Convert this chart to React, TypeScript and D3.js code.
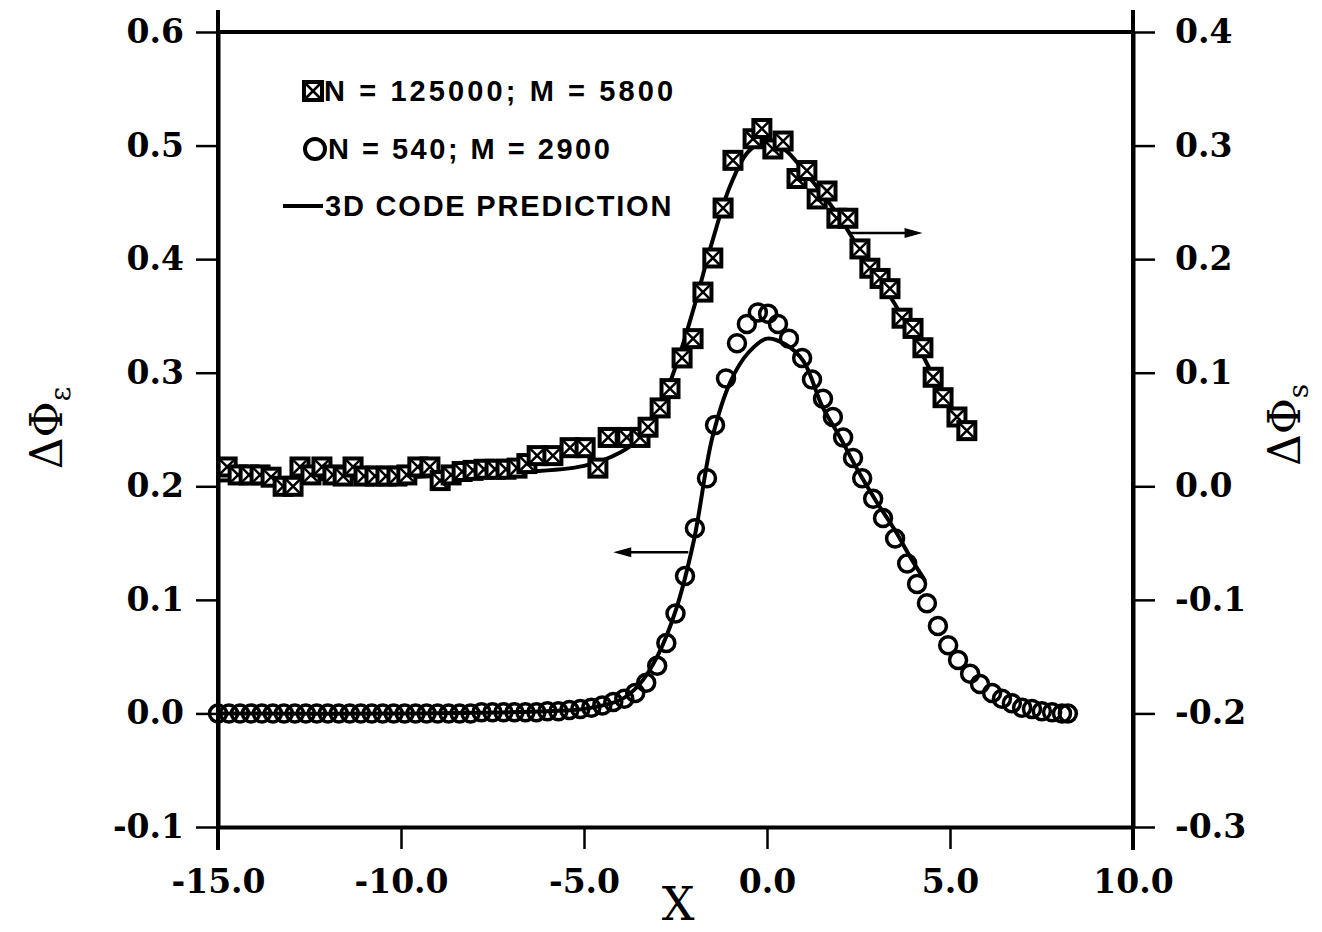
import React, { useEffect, useRef } from "react"
import * as d3 from "d3"

// axis ticks
const xTicks = [-15, -10, -5, 0, 5, 10]
const leftTicks = [-0.1, 0, 0.1, 0.2, 0.3, 0.4, 0.5, 0.6]
const rightTicks = [-0.3, -0.2, -0.1, 0, 0.1, 0.2, 0.3, 0.4]

// O  N = 540; M = 2900  (left axis)
const circleX = [
  -15.0, -14.7, -14.4, -14.1, -13.8, -13.5, -13.2, -12.9, -12.6, -12.3, -12.0, -11.7,
  -11.4, -11.1, -10.8, -10.5, -10.2, -9.9, -9.6, -9.3, -9.0, -8.7, -8.4, -8.1, -7.8,
  -7.5, -7.2, -6.9, -6.6, -6.3, -6.0, -5.7, -5.4, -5.1, -4.8, -4.5, -4.2, -3.9, -3.6,
  -3.3, -3.0, -2.75, -2.5, -2.24, -1.97, -1.64, -1.42, -1.12, -0.82, -0.55, -0.25,
  0.03, 0.3, 0.6, 0.96, 1.23, 1.53, 1.8, 2.08, 2.35, 2.6, 2.9, 3.17, 3.5, 3.83, 4.1,
  4.37, 4.67, 4.95, 5.22, 5.55, 5.82, 6.15, 6.42, 6.69, 6.97, 7.24, 7.51, 7.79, 8.06, 8.22
]
const circleY = [
  0, 0, 0, 0, 0, 0, 0, 0, 0, 0, 0, 0,
  0, 0, 0, 0, 0, 0, 0, 0, 0, 0, 0, 0, 0.001,
  0.001, 0.001, 0.001, 0.001, 0.001, 0.002, 0.002, 0.003, 0.004, 0.005, 0.007, 0.01, 0.013, 0.018,
  0.027, 0.042, 0.062, 0.088, 0.121, 0.163, 0.207, 0.254, 0.295, 0.326, 0.343, 0.353,
  0.352, 0.343, 0.33, 0.313, 0.294, 0.277, 0.261, 0.243, 0.225, 0.207, 0.189, 0.172, 0.154, 0.132, 0.114,
  0.097, 0.077, 0.06, 0.047, 0.035, 0.026, 0.018, 0.013, 0.009, 0.005, 0.004, 0.002, 0.001, 0.0, 0.0
]

// boxed squares  N = 125000; M = 5800  (right axis)
const squareX = [
  -14.75, -14.45, -14.15, -13.85, -13.55, -13.22, -12.95, -12.76, -12.46, -12.16, -11.86,
  -11.58, -11.31, -11.01, -10.71, -10.41, -10.11, -9.84, -9.54, -9.21, -8.93, -8.63, -8.33,
  -8.03, -7.73, -7.43, -7.13, -6.83, -6.56, -6.28, -5.85, -5.38, -4.97, -4.62, -4.34, -3.83,
  -3.47, -3.25, -2.92, -2.65, -2.32, -2.02, -1.75, -1.48, -1.2, -0.93, -0.38, -0.14, 0.16,
  0.44, 0.82, 1.09, 1.37, 1.64, 1.91, 2.21, 2.54, 2.81, 3.09, 3.36, 3.69, 3.99, 4.26, 4.54,
  4.81, 5.19, 5.46
]
const squareY = [
  0.017, 0.01, 0.01, 0.01, 0.008, 0.0, 0.0, 0.017, 0.01, 0.017, 0.01,
  0.009, 0.017, 0.009, 0.009, 0.009, 0.009, 0.01, 0.017, 0.017, 0.005, 0.01, 0.013,
  0.014, 0.015, 0.015, 0.015, 0.016, 0.02, 0.027, 0.027, 0.034, 0.034, 0.016, 0.043, 0.043,
  0.043, 0.052, 0.069, 0.086, 0.113, 0.13, 0.171, 0.201, 0.245, 0.287, 0.306, 0.315, 0.297,
  0.304, 0.271, 0.278, 0.253, 0.26, 0.236, 0.236, 0.209, 0.192, 0.183, 0.174, 0.148, 0.139, 0.122, 0.096,
  0.078, 0.061, 0.049
]

// 3D code prediction, lower curve (left axis)
const predLowX = [-15, -10, -6, -5, -4, -3.5, -3, -2.5, -2, -1.5, -1, -0.5, 0, 0.5, 1, 1.5, 2, 2.5, 3, 3.5, 4, 4.32]
const predLowY = [0, 0, 0.002, 0.004, 0.012, 0.025, 0.05, 0.09, 0.152, 0.242, 0.292, 0.318, 0.33, 0.325, 0.31, 0.271, 0.243, 0.213, 0.186, 0.161, 0.133, 0.117]

// 3D code prediction, upper curve (right axis)
const predHighX = [-15, -10, -7, -5, -4, -3.5, -3, -2.5, -2, -1.5, -1, -0.5, 0, 0.5, 1, 1.5, 2, 2.5, 3, 3.5, 4, 4.5, 5, 5.45]
const predHighY = [0.005, 0.008, 0.012, 0.018, 0.03, 0.042, 0.065, 0.105, 0.157, 0.215, 0.265, 0.295, 0.303, 0.296, 0.278, 0.258, 0.236, 0.21, 0.186, 0.16, 0.132, 0.1, 0.072, 0.05]

const App = () => {
  const ref = useRef<SVGSVGElement>(null)

  useEffect(() => {
    const W = 1322
    const H = 932
    const left = 218, right = 1133, top = 32, bottom = 827

    const x = d3.scaleLinear().domain([-15, 10]).range([left, right])
    const yL = d3.scaleLinear().domain([-0.1, 0.6]).range([bottom, top])
    const yR = d3.scaleLinear().domain([-0.3, 0.4]).range([bottom, top])

    const svg = d3.select(ref.current)
    svg.selectAll("*").remove()
    svg.attr("width", W).attr("height", H)
    svg.append("rect").attr("width", W).attr("height", H).attr("fill", "#fff")

    const fmt = (d: any) => (+d).toFixed(1)
    const styleAxis = (g: any) => {
      g.attr("font-family", "'DejaVu Serif', serif").attr("font-size", 33).attr("font-weight", "bold")
      g.select(".domain").attr("stroke-width", 4)
      g.selectAll(".tick line").attr("stroke-width", 2.5)
      g.selectAll(".tick text").attr("fill", "#000")
    }

    svg.append("g")
      .attr("transform", `translate(${left},0)`)
      .call(d3.axisLeft(yL).tickValues(leftTicks).tickSize(22).tickSizeOuter(0).tickPadding(12).tickFormat(fmt))
      .call(styleAxis)

    svg.append("g")
      .attr("transform", `translate(${right},0)`)
      .call(d3.axisRight(yR).tickValues(rightTicks).tickSize(22).tickSizeOuter(0).tickPadding(20).tickFormat(fmt))
      .call(styleAxis)

    const xa = svg.append("g")
      .attr("transform", `translate(0,${bottom})`)
      .call(d3.axisBottom(x).tickValues(xTicks).tickSize(22).tickSizeOuter(0).tickPadding(14).tickFormat(fmt))
      .call(styleAxis)
    xa.selectAll(".tick text").attr("dy", "0.9em")

    // frame: top line and axis lines running past the corners
    svg.append("line").attr("x1", left).attr("x2", right).attr("y1", top).attr("y2", top)
      .attr("stroke", "#000").attr("stroke-width", 4)
    ;[left, right].forEach(px => {
      svg.append("line").attr("x1", px).attr("x2", px).attr("y1", 10).attr("y2", 850)
        .attr("stroke", "#000").attr("stroke-width", 4)
    })

    const plot = svg.append("g")

    // prediction curves
    const lowLine = d3.line<number>()
      .x((_, i) => x(predLowX[i]))
      .y(d => yL(d))
      .curve(d3.curveCatmullRom.alpha(0.5))
    plot.append("path").attr("d", lowLine(predLowY))
      .attr("fill", "none").attr("stroke", "#000").attr("stroke-width", 4)

    const highLine = d3.line<number>()
      .x((_, i) => x(predHighX[i]))
      .y(d => yR(d))
      .curve(d3.curveCatmullRom.alpha(0.5))
    plot.append("path").attr("d", highLine(predHighY))
      .attr("fill", "none").attr("stroke", "#000").attr("stroke-width", 4)

    // circles
    plot.append("g").selectAll("circle")
      .data(circleY)
      .join("circle")
      .attr("cx", (_, i) => x(circleX[i]))
      .attr("cy", d => yL(d))
      .attr("r", 8.5)
      .attr("fill", "none")
      .attr("stroke", "#000")
      .attr("stroke-width", 3.5)

    // boxed squares
    const s = 8.5
    const sq = plot.append("g").selectAll("g")
      .data(squareY)
      .join("g")
      .attr("transform", (d, i) => `translate(${x(squareX[i])},${yR(d)})`)
    sq.append("rect").attr("x", -s).attr("y", -s).attr("width", 2 * s).attr("height", 2 * s)
      .attr("fill", "#fff").attr("stroke", "#000").attr("stroke-width", 4)
    sq.append("path").attr("d", `M${-s},${-s}L${s},${s}M${s},${-s}L${-s},${s}`)
      .attr("stroke", "#000").attr("stroke-width", 2.5)

    // arrows pointing to the axis each set belongs to
    const arrow = (x1: number, x2: number, py: number) => {
      const dir = Math.sign(x2 - x1)
      plot.append("line").attr("x1", x1).attr("x2", x2 - dir * 10).attr("y1", py).attr("y2", py)
        .attr("stroke", "#000").attr("stroke-width", 2.5)
      plot.append("path")
        .attr("d", `M${x2},${py}L${x2 - dir * 18},${py - 5}L${x2 - dir * 18},${py + 5}Z`)
        .attr("fill", "#000")
    }
    arrow(x(-2.15), x(-4.2), yL(0.142))
    arrow(x(2.27), x(4.25), yR(0.223))

    // legend
    const lg = svg.append("g")
      .attr("font-family", "'Liberation Sans', Arial, sans-serif")
      .attr("font-weight", "bold")
      .attr("font-size", 29)
      .attr("letter-spacing", 2.5)
    const ls = 9
    const m1 = lg.append("g").attr("transform", "translate(313,91)")
    m1.append("rect").attr("x", -ls).attr("y", -ls).attr("width", 2 * ls).attr("height", 2 * ls)
      .attr("fill", "#fff").attr("stroke", "#000").attr("stroke-width", 4)
    m1.append("path").attr("d", `M${-ls},${-ls}L${ls},${ls}M${ls},${-ls}L${-ls},${ls}`)
      .attr("stroke", "#000").attr("stroke-width", 2.5)
    lg.append("text").attr("x", 324).attr("y", 91).attr("dominant-baseline", "central")
      .attr("letter-spacing", 3.1)
      .text("N = 125000; M = 5800")
    lg.append("circle").attr("cx", 315).attr("cy", 149).attr("r", 10)
      .attr("fill", "none").attr("stroke", "#000").attr("stroke-width", 4)
    lg.append("text").attr("x", 328).attr("y", 149).attr("dominant-baseline", "central")
      .text("N = 540; M = 2900")
    lg.append("line").attr("x1", 283).attr("x2", 323).attr("y1", 206).attr("y2", 206)
      .attr("stroke", "#000").attr("stroke-width", 4)
    lg.append("text").attr("x", 325).attr("y", 206).attr("dominant-baseline", "central")
      .attr("letter-spacing", 1.8)
      .text("3D CODE PREDICTION")

    // axis titles
    svg.append("text").attr("x", 678).attr("y", 920).attr("text-anchor", "middle")
      .attr("font-family", "'DejaVu Serif', serif").attr("font-size", 46).text("X")

    const yTitle = (px: number, py: number, sub: string) => {
      const t = svg.append("text")
        .attr("transform", `translate(${px},${py}) rotate(-90)`)
        .attr("text-anchor", "middle")
        .attr("font-family", "'DejaVu Serif', serif")
        .attr("font-size", 44)
      t.append("tspan").text("ΔΦ")
      t.append("tspan").attr("font-size", 28).attr("dy", 8).text(sub)
    }
    yTitle(62, 428, "ε")
    yTitle(1300, 425, "s")
  }, [])

  return <svg ref={ref} style={{ position: "absolute", left: 0, top: 0 }} />
}

export default App
